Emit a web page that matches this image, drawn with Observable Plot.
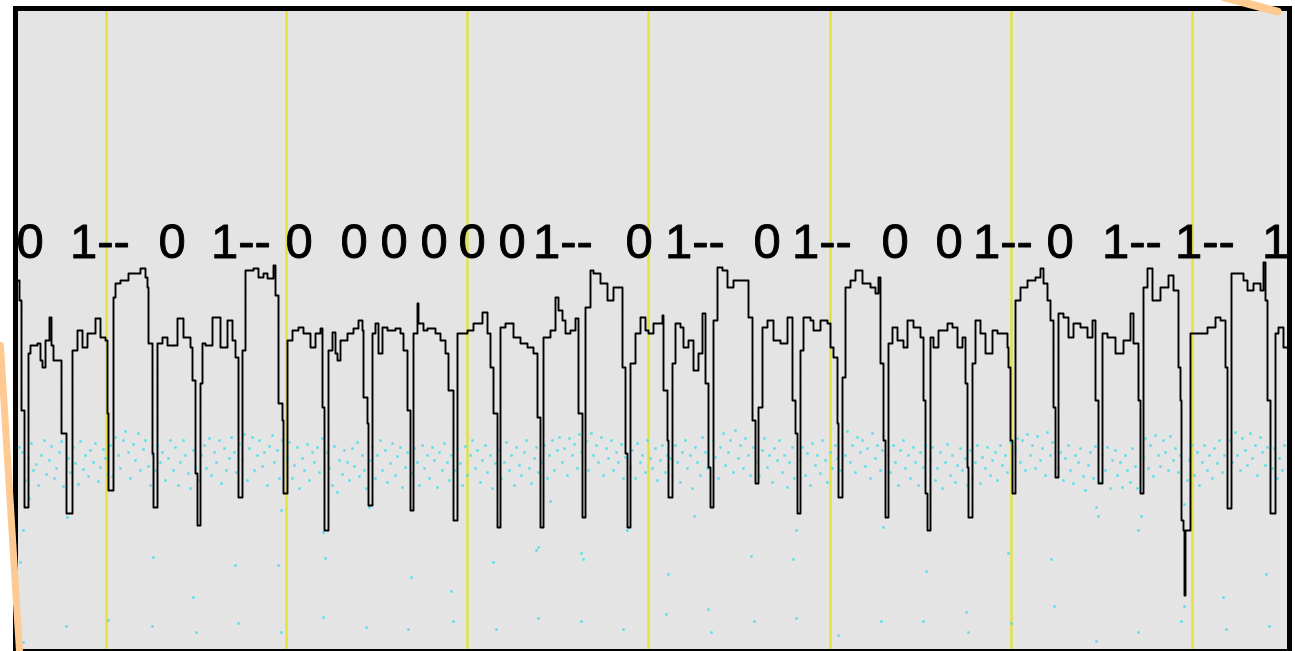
<!DOCTYPE html>
<html><head><meta charset="utf-8">
<script src="https://cdn.jsdelivr.net/npm/d3@7"></script>
<script src="https://cdn.jsdelivr.net/npm/@observablehq/plot@0.6"></script>
<style>html,body{margin:0;padding:0;background:#fff;}#chart svg{display:block;}</style>
</head><body><div id="chart"></div>
<script>
// Decoded bit labels and their horizontal positions (sample units)
const bitLabels = ["0","1--","0","1--","0","0","0","0","0","0","1--","0","1--","0","1--","0","0","1--","0","1--","1--","1"];
const labelPos  = [16,69.5,158,210.5,285,340,380,420,458,498,532.5,625,664.5,753,791.5,881,935,972.5,1046,1101.5,1174.5,1261.5];
const labelLevel = 257;

// Frame boundaries (yellow markers)
const frameBounds = [106,286,467,648,830,1011,1192];

// Read signal trace: [sample, level] (level axis inverted)
const trace = [
[17,280],[19,300],[21,410],[24,507],[26,507],[28,353],[30,345],[37,343],[40,360],[42,367],[45,340],[49,317],[51,345],[53,360],[58,360],[61,433],[66,513],[68,513],[72,350],[77,330],[82,347],[87,333],[95,318],[100,337],[105,340],[107,413],[108,490],[110,490],
[113,297],[115,283],[120,280],[128,273],[137,273],[140,268],[145,277],[147,287],[148,343],[152,453],[153,507],[155,507],[157,343],[162,337],[167,345],[177,318],[183,337],[190,347],[192,380],[195,473],[197,525],[199,525],[200,383],[202,343],[205,345],[212,317],[220,347],[227,320],[232,340],[235,357],[238,440],[238,497],[240,497],
[242,350],[245,270],[253,268],[258,277],[263,273],[267,278],[273,265],[275,295],[278,403],[282,420],[283,493],[285,493],[287,340],[292,330],[298,327],[303,333],[310,347],[315,333],[320,328],[322,407],[324,530],[326,530],
[328,350],[332,332],[335,353],[337,360],[340,340],[347,333],[353,328],[358,320],[362,330],[363,397],[367,423],[368,505],[370,505],[372,333],[375,323],[378,353],[382,327],[387,330],[395,328],[400,333],[403,350],[407,410],[410,510],[412,510],[413,333],[417,303],[418,323],[423,330],[427,328],[435,333],[440,340],[445,353],[448,390],[453,520],[455,520],
[457,333],[467,330],[473,323],[482,312],[487,333],[490,367],[493,413],[497,527],[499,527],[500,327],[505,323],[513,337],[520,343],[527,347],[533,353],[537,417],[540,527],[542,527],[543,337],[550,330],[555,297],[558,310],[562,320],[565,333],[570,330],[575,318],[578,413],[582,517],[584,517],
[585,307],[590,270],[593,273],[600,283],[607,300],[613,287],[620,287],[622,367],[625,453],[627,527],[629,527],[630,363],[635,333],[640,317],[645,330],[648,333],[653,323],[662,315],[663,390],[667,440],[668,497],[670,497],[672,363],[675,323],[680,327],[683,347],[688,340],[693,370],[698,353],[702,313],[705,383],[708,467],[710,507],[712,507],
[713,320],[717,267],[722,270],[727,287],[733,280],[747,280],[748,317],[752,420],[755,483],[757,483],[758,407],[762,327],[767,320],[773,340],[780,343],[787,317],[792,400],[795,433],[797,513],[799,513],[800,350],[803,317],[810,320],[813,330],[820,320],[827,323],[830,347],[833,357],[837,423],[838,497],[840,497],
[842,377],[845,287],[850,280],[855,270],[862,283],[870,287],[875,293],[878,277],[880,363],[883,440],[885,517],[887,517],[888,343],[892,327],[897,340],[903,347],[907,320],[913,327],[920,337],[923,400],[925,493],[927,530],[929,530],[930,337],[933,347],[938,330],[947,323],[952,327],[957,347],[962,337],[965,383],[967,467],[968,517],[970,517],
[972,363],[975,320],[980,333],[985,353],[992,330],[997,333],[1007,347],[1008,367],[1010,440],[1012,493],[1014,493],[1015,300],[1020,287],[1027,280],[1035,277],[1040,268],[1043,283],[1047,300],[1050,320],[1053,407],[1055,477],[1057,477],[1058,313],[1063,317],[1068,337],[1073,323],[1080,327],[1087,337],[1092,320],[1095,400],[1098,483],[1100,483],
[1102,333],[1107,337],[1115,353],[1123,340],[1130,313],[1133,343],[1138,400],[1140,493],[1142,493],[1143,287],[1147,268],[1152,300],[1160,287],[1168,275],[1173,290],[1178,367],[1180,400],[1181,520],[1183,530],[1184,595],[1185,530],[1188,530],
[1190,333],[1197,333],[1207,327],[1215,317],[1220,320],[1225,367],[1227,450],[1227,508],[1229,508],[1231,273],[1237,273],[1243,280],[1247,290],[1253,283],[1260,290],[1263,262],[1265,300],[1267,400],[1270,513],[1272,513],[1275,333],[1278,327],[1283,347],[1288,327]
];

// Cyan detector samples: dense band
const bandDots = [
[19,447],[22,452],[25,480],[28,458],[31,443],[33,470],[36,464],[38,485],[41,455],[44,440],[46,474],[49,460],[51,446],[54,478],[56,468],[59,452],[61,441],[63,486],
[68,458],[70,472],[73,447],[75,463],[78,484],[80,441],[83,469],[85,455],[88,476],[90,450],[93,462],[95,443],[98,481],[100,467],[103,449],[105,458],[107,474],
[110,445],[112,476],[115,437],[118,455],[120,468],[123,440],[125,431],[128,452],[130,478],[133,444],[135,460],[138,433],[140,470],[143,449],[145,440],[148,466],[150,485],[152,455],
[155,470],[157,445],[160,462],[162,452],[165,480],[168,458],[170,440],[173,470],[175,447],[178,485],[180,462],[183,440],[185,455],[188,473],[190,488],[193,450],[195,467],
[199,480],[201,455],[204,445],[206,468],[209,438],[211,475],[214,452],[216,462],[219,440],[221,483],[224,448],[226,470],[229,458],[231,437],[234,452],[236,472],[239,444],
[242,460],[244,434],[247,480],[249,448],[252,437],[254,470],[257,455],[259,440],[262,466],[264,452],[267,485],[269,446],[272,435],[274,462],[277,450],[279,478],[282,440],
[287,458],[289,442],[292,478],[294,465],[297,447],[299,488],[302,458],[304,470],[307,444],[309,480],[312,452],[314,462],[317,447],[319,472],[322,438],
[327,452],[329,468],[332,485],[334,446],[337,492],[339,460],[342,474],[344,450],[347,462],[349,480],[352,448],[354,466],[357,442],[359,476],[362,455],[364,470],[366,488],
[370,460],[372,447],[375,478],[377,455],[380,440],[382,470],[385,450],[387,482],[390,463],[392,443],[395,475],[397,456],[400,447],[402,487],[405,467],[407,452],
[412,473],[414,448],[417,462],[419,485],[422,445],[424,468],[427,455],[429,478],[432,447],[434,460],[437,487],[439,452],[442,470],[444,443],[447,462],[449,480],[451,455],
[455,470],[457,448],[460,463],[462,485],[465,446],[467,475],[470,455],[472,440],[475,468],[477,450],[480,482],[482,460],[485,445],[487,472],[490,455],[492,488],[495,463],
[499,450],[501,478],[504,462],[506,442],[509,470],[511,455],[514,485],[516,447],[519,465],[521,475],[524,452],[526,440],[529,468],[531,483],[534,458],[536,447],[538,472],
[542,462],[544,445],[547,478],[549,455],[552,440],[554,470],[557,450],[559,437],[562,462],[564,448],[567,475],[569,438],[572,455],[574,444],[577,468],[579,434],[581,452],
[586,441],[588,470],[591,433],[593,455],[596,445],[598,462],[601,437],[603,475],[606,448],[608,458],[611,440],[613,470],[616,452],[618,462],[621,444],[623,478],[625,457],
[630,468],[632,450],[635,478],[637,443],[640,462],[642,455],[645,472],[647,440],[650,458],[652,468],[655,448],[657,480],[660,460],[662,445],[665,472],[667,455],
[670,458],[672,475],[675,445],[677,462],[680,482],[682,452],[685,440],[687,468],[690,455],[692,488],[695,447],[697,462],[700,475],[702,437],[705,452],[707,468],
[713,440],[715,457],[718,478],[720,447],[723,433],[725,465],[728,452],[730,440],[733,472],[735,430],[738,458],[740,445],[743,468],[745,438],[748,455],[750,475],[753,447],
[757,462],[759,475],[762,450],[764,438],[767,467],[769,455],[772,482],[774,448],[777,460],[779,440],[782,472],[784,455],[787,487],[789,462],[792,447],[794,478],
[800,460],[802,447],[805,475],[807,453],[810,485],[812,443],[815,465],[817,455],[820,473],[822,440],[825,460],[827,482],[830,452],[832,468],[835,445],[837,458],
[840,470],[842,438],[845,455],[847,431],[850,462],[852,445],[855,472],[857,437],[860,452],[862,440],[865,466],[867,448],[870,478],[872,433],[875,458],[877,445],[880,470],[882,450],
[888,455],[890,472],[893,445],[895,462],[898,485],[900,450],[903,440],[905,468],[908,455],[910,478],[913,447],[915,462],[918,485],[920,452],[923,467],[925,445],
[930,460],[932,447],[935,480],[937,468],[940,452],[942,488],[945,462],[947,444],[950,475],[952,455],[955,482],[957,465],[960,448],[962,470],[965,458],[967,485],
[970,450],[972,478],[975,462],[977,445],[980,483],[982,457],[985,468],[987,447],[990,475],[992,460],[995,452],[997,480],[1000,445],[1002,465],[1005,455],[1007,472],[1010,442],
[1015,450],[1017,438],[1020,462],[1022,440],[1025,470],[1027,434],[1030,455],[1032,445],[1035,468],[1037,436],[1040,460],[1042,448],[1045,475],[1047,432],[1050,455],[1052,442],
[1058,468],[1060,452],[1063,480],[1065,458],[1068,445],[1070,470],[1073,483],[1075,455],[1078,462],[1080,448],[1083,476],[1085,490],[1088,465],[1090,452],[1093,478],[1095,446],
[1100,482],[1102,455],[1105,470],[1107,447],[1110,488],[1112,460],[1115,450],[1117,475],[1120,462],[1122,487],[1125,455],[1127,470],[1130,482],[1132,448],[1135,466],[1137,488],
[1143,457],[1145,438],[1148,468],[1150,445],[1153,476],[1155,435],[1158,455],[1160,466],[1163,440],[1165,452],[1168,470],[1170,436],[1173,460],[1175,448],[1178,472],[1180,455],
[1187,480],[1189,460],[1192,445],[1194,475],[1197,452],[1199,485],[1202,462],[1204,445],[1207,470],[1209,455],[1212,478],[1214,448],[1217,463],[1219,440],[1222,472],[1224,455],
[1230,440],[1232,462],[1235,432],[1237,455],[1240,470],[1242,438],[1245,450],[1247,465],[1250,433],[1252,458],[1255,445],[1257,475],[1260,437],[1262,452],[1265,465],[1267,447],
[1272,468],[1274,448],[1277,478],[1279,458],[1282,470],[1284,445]
];

// Cyan detector samples: sparse outliers
const sparseDots = [
[23,530],[20,562],[23,642],[67,517],[66,626],[29,498],[108,620],[153,557],[152,626],[193,597],[196,632],[235,565],[238,623],[278,565],[281,510],[281,632],
[323,617],[325,558],[323,532],[366,627],[369,507],[411,577],[408,629],[451,591],[453,621],[493,562],[496,629],[536,550],[538,547],[538,618],[581,553],[583,559],
[581,621],[623,629],[627,530],[550,501],[694,516],[668,574],[666,614],[708,609],[711,632],[751,556],[754,621],[793,559],[796,530],[796,618],[838,635],[881,621],
[883,527],[926,571],[923,621],[966,612],[968,632],[1008,553],[1011,623],[1051,559],[1054,606],[1096,507],[1098,516],[1096,641],[1138,530],[1141,516],[1138,632],
[1184,606],[1181,621],[1184,504],[1223,597],[1226,629],[1266,574],[1269,626]
];

// Orange annotation edges
const orangeLeft = [[0,345],[19,651]];
const orangeTop = [[1224,-3],[1277,11]];

const labels = bitLabels.map((t, i) => ({text: t, x: labelPos[i], y: labelLevel}));

const chart = Plot.plot({
  width: 1295,
  height: 651,
  marginLeft: 15,
  marginRight: 6,
  marginTop: 8,
  marginBottom: 0,
  x: {domain: [15, 1289], axis: null},
  y: {domain: [651, 8], axis: null},
  style: {background: "#fff", overflow: "visible"},
  marks: [
    Plot.frame({fill: "#e4e4e4"}),
    Plot.ruleX(frameBounds, {stroke: "#e6e03c", strokeWidth: 2.4}),
    Plot.dot(bandDots, {x: d => d[0], y: d => d[1], r: 1.35, symbol: "square", fill: "#4ddfe7"}),
    Plot.dot(sparseDots, {x: d => d[0], y: d => d[1], r: 1.35, symbol: "square", fill: "#4ddfe7"}),
    Plot.line(trace, {x: d => d[0], y: d => d[1], curve: "step-after", stroke: "#000", strokeWidth: 1.9}),
    Plot.text(labels, {x: "x", y: "y", text: "text", textAnchor: "start", lineAnchor: "bottom",
      fontSize: 49, fontFamily: "Liberation Sans, Arial, sans-serif", fill: "#000", stroke: "#000", strokeWidth: 0.9}),
    Plot.frame({stroke: "#000", strokeWidth: 5}),
    Plot.line(orangeLeft, {x: d => d[0], y: d => d[1], stroke: "#ffc992", strokeWidth: 7}),
    Plot.line(orangeTop, {x: d => d[0], y: d => d[1], stroke: "#ffc992", strokeWidth: 8})
  ]
});
document.getElementById("chart").appendChild(chart);
</script>
</body></html>
